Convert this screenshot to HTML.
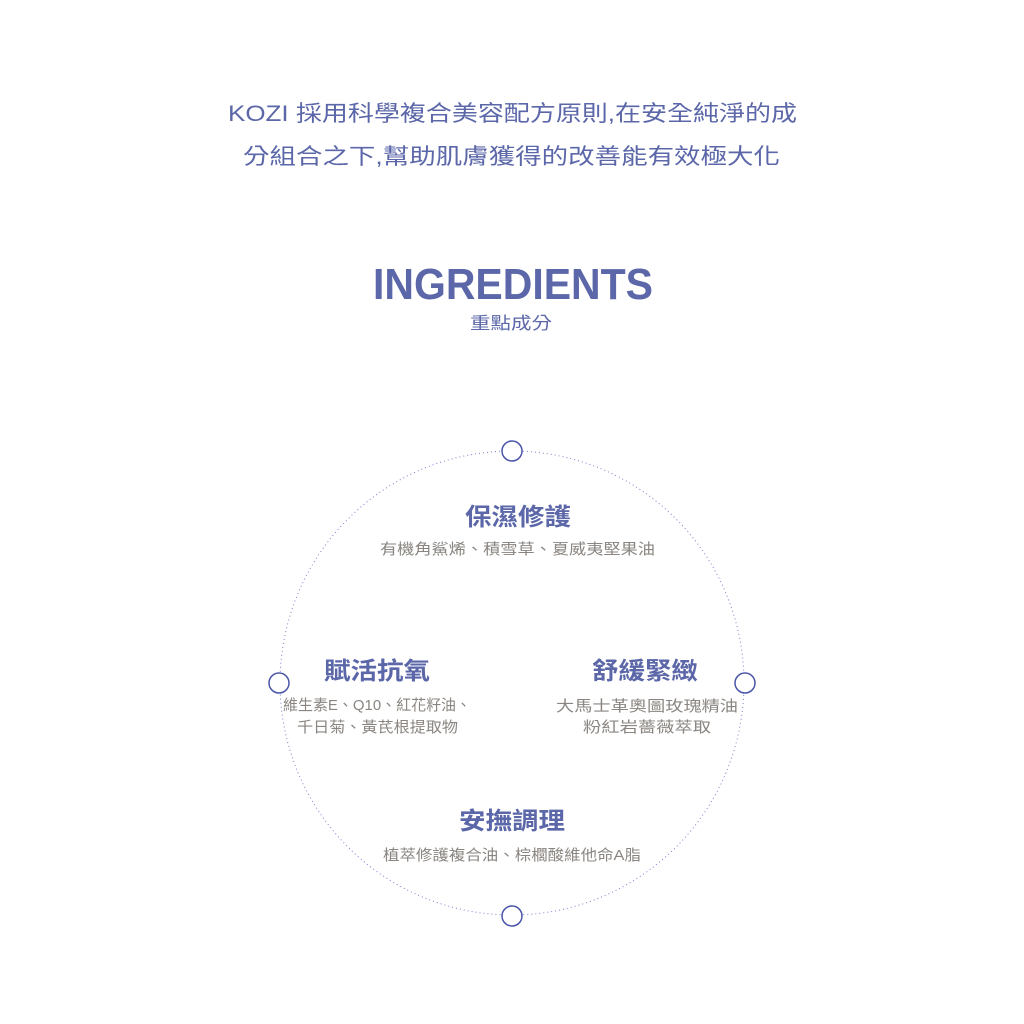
<!DOCTYPE html>
<html><head><meta charset="utf-8"><style>html,body{margin:0;padding:0;background:#fff}svg{display:block}</style></head>
<body>
<svg width="1024" height="1024" viewBox="0 0 1024 1024" xmlns="http://www.w3.org/2000/svg">
<rect width="1024" height="1024" fill="#fff"/>
<g font-family="'Liberation Sans','Noto Sans CJK TC',sans-serif">
<text x="228" y="121" font-size="22" fill="#5b67a8" textLength="569" lengthAdjust="spacingAndGlyphs">KOZI 採用科學複合美容配方原則,在安全純淨的成</text>
<text x="243" y="164" font-size="22" fill="#5b67a8" textLength="537" lengthAdjust="spacingAndGlyphs">分組合之下,幫助肌膚獲得的改善能有效極大化</text>
<text x="373" y="299" font-size="44" font-weight="bold" fill="#5b67a8" textLength="280" lengthAdjust="spacingAndGlyphs">INGREDIENTS</text>
<text x="470" y="329" font-size="17" fill="#5b67a8" textLength="82" lengthAdjust="spacingAndGlyphs">重點成分</text>
</g>
<circle cx="512" cy="683" r="232" fill="none" stroke="#7a80d0" stroke-width="1" stroke-dasharray="1,3"/>
<g fill="#fff" stroke="#4a55a8" stroke-width="1.5">
<circle cx="512" cy="451" r="10"/>
<circle cx="512" cy="916" r="10"/>
<circle cx="279" cy="683" r="10"/>
<circle cx="745" cy="683" r="10"/>
</g>
<g font-family="'Liberation Sans','Noto Sans CJK TC',sans-serif">
<g font-size="24" font-weight="bold" fill="#5b67a8">
<text x="465" y="525" textLength="106" lengthAdjust="spacingAndGlyphs">保濕修護</text>
<text x="324" y="679" textLength="106" lengthAdjust="spacingAndGlyphs">賦活抗氧</text>
<text x="592" y="679" textLength="106" lengthAdjust="spacingAndGlyphs">舒緩緊緻</text>
<text x="459" y="829" textLength="106" lengthAdjust="spacingAndGlyphs">安撫調理</text>
</g>
<g font-size="15" fill="#8a8580">
<text x="380" y="554" textLength="275" lengthAdjust="spacingAndGlyphs">有機角鯊烯、積雪草、夏威夷堅果油</text>
<text x="283" y="710" textLength="188" lengthAdjust="spacingAndGlyphs">維生素E、Q10、紅花籽油、</text>
<text x="297" y="732" textLength="161" lengthAdjust="spacingAndGlyphs">千日菊、黃芪根提取物</text>
<text x="556" y="711" textLength="182" lengthAdjust="spacingAndGlyphs">大馬士革奧圖玫瑰精油</text>
<text x="583" y="732" textLength="128" lengthAdjust="spacingAndGlyphs">粉紅岩薔薇萃取</text>
<text x="383" y="860" textLength="258" lengthAdjust="spacingAndGlyphs">植萃修護複合油、棕櫚酸維他命A脂</text>
</g>
</g>
</svg>
</body></html>
